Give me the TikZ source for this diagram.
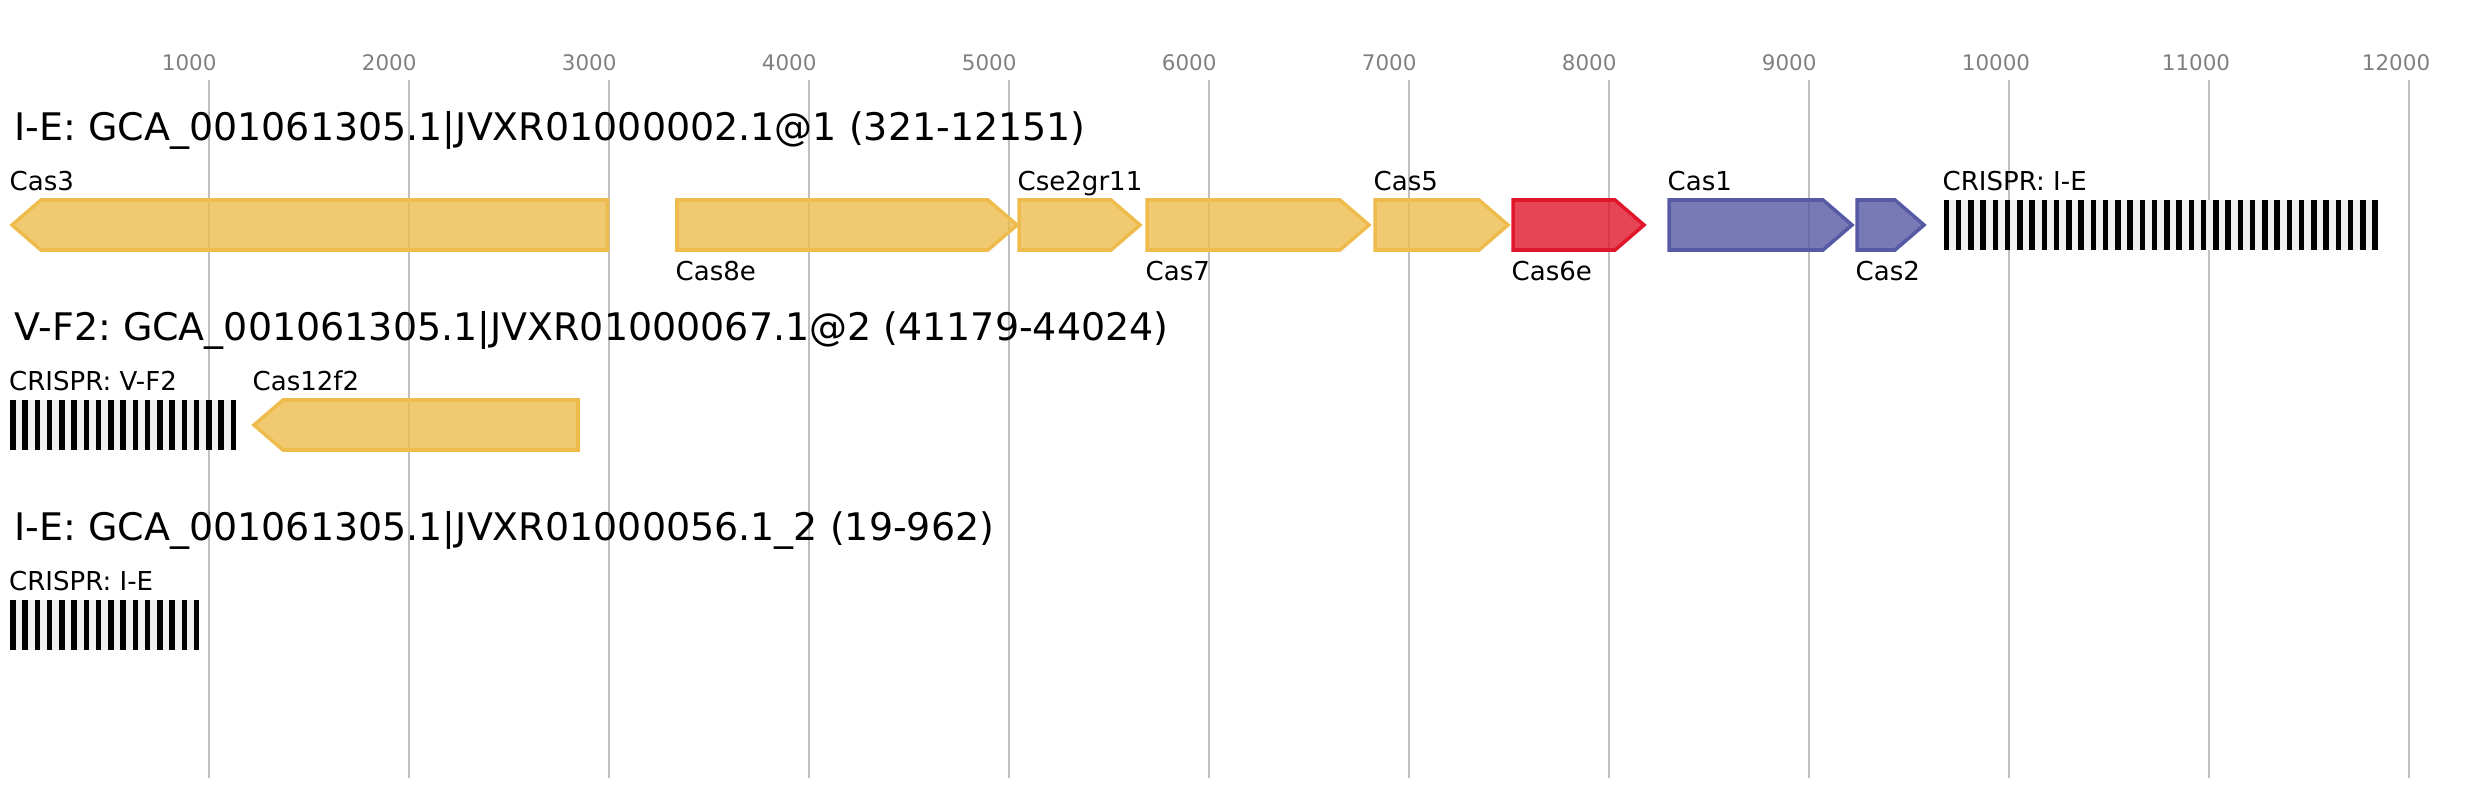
\documentclass[tikz,border=0pt]{standalone}
\usepackage{fontspec}
\setmainfont{DejaVu Sans}
\usetikzlibrary{positioning}
\frenchspacing

\definecolor{casyellow}{RGB}{238,188,76}
\definecolor{casred}{RGB}{224,22,43}
\definecolor{casblue}{RGB}{86,89,164}
\definecolor{gridgray}{RGB}{192,192,192}
\definecolor{spacergray}{RGB}{240,240,240}
\definecolor{tickgray}{RGB}{128,128,128}

\tikzset{
  gene/.style={draw=#1, fill=#1, fill opacity=0.8, line width=1pt, line join=miter},
  gridline/.style={draw=gridgray, line width=0.6pt},
  ticklabel/.style={anchor=base west, inner sep=0pt, text=tickgray, font=\fontsize{6.1}{7}\selectfont},
  locuslabel/.style={anchor=base west, inner sep=0pt, font=\fontsize{10.8}{12}\selectfont},
  genelabel/.style={anchor=base west, inner sep=0pt, font=\fontsize{7.4}{9}\selectfont}
}

% gene arrows: {left x}{right x}{top y}{colour}
\newcommand{\generight}[4]{%
  \draw[gene=#4] (#1,#3) -- ({#2-29},#3) -- (#2,{#3+25}) -- ({#2-29},{#3+50}) -- (#1,{#3+50}) -- cycle;}
\newcommand{\geneleft}[4]{%
  \draw[gene=#4] (#1,{#3+25}) -- ({#1+29},#3) -- (#2,#3) -- (#2,{#3+50}) -- ({#1+29},{#3+50}) -- cycle;}
% crispr array: {left x}{top y}{number of repeats}
\newcommand{\crisprarray}[3]{%
  \fill[spacergray] (#1,#2) rectangle ({#1+(#3-1)*12.25+5.6},{#2+50});
  \foreach \k in {1,...,#3}
    \fill[black] ({#1+(\k-1)*12.25},#2) rectangle ({#1+(\k-1)*12.25+5.6},{#2+50});}

\begin{document}
\begin{tikzpicture}[x=0.01cm,y=-0.01cm]
  \useasboundingbox (0,0) rectangle (2466,800);

  %% scale
  \foreach \t in {1,...,12}{
    \draw[gridline] ({9.2+200*\t},80) -- ({9.2+200*\t},778);
    \node[ticklabel] (tick\t) at ({9.2+200*\t-48},70.5) {\t000};
  }

  %% locus 1
  \node[locuslabel] (locusA) at (14,140) {I-E: GCA\_001061305.1|JVXR01000002.1@1 (321-12151)};
  \geneleft{12}{607.5}{200}{casyellow}
  \generight{677}{1017}{200}{casyellow}
  \generight{1019}{1140}{200}{casyellow}
  \generight{1147}{1369}{200}{casyellow}
  \generight{1375}{1508}{200}{casyellow}
  \generight{1513}{1644}{200}{casred}
  \generight{1669}{1852}{200}{casblue}
  \generight{1857}{1924}{200}{casblue}
  \crisprarray{1943.5}{200}{36}
  \node[genelabel] (cas3) at (9,190) {Cas3};
  \node[genelabel] (cas8e) at (675,280) {Cas8e};
  \node[genelabel] (cse2) at (1017,190) {Cse2gr11};
  \node[genelabel] (cas7) at (1145,280) {Cas7};
  \node[genelabel] (cas5) at (1373,190) {Cas5};
  \node[genelabel] (cas6e) at (1511,280) {Cas6e};
  \node[genelabel] (cas1) at (1667,190) {Cas1};
  \node[genelabel] (cas2) at (1855,280) {Cas2};
  \node[genelabel] (crisprA) at (1942,190) {CRISPR: I-E};

  %% locus 2
  \node[locuslabel] (locusB) at (14,340) {V-F2: GCA\_001061305.1|JVXR01000067.1@2 (41179-44024)};
  \crisprarray{10}{400}{19}
  \geneleft{254}{578}{400}{casyellow}
  \node[genelabel] (crisprB) at (8.5,390) {CRISPR: V-F2};
  \node[genelabel] (cas12f2) at (252,390) {Cas12f2};

  %% locus 3
  \node[locuslabel] (locusC) at (14,540) {I-E: GCA\_001061305.1|JVXR01000056.1\_2 (19-962)};
  \crisprarray{10}{600}{16}
  \node[genelabel] (crisprC) at (8.5,590) {CRISPR: I-E};
\end{tikzpicture}
\end{document}
